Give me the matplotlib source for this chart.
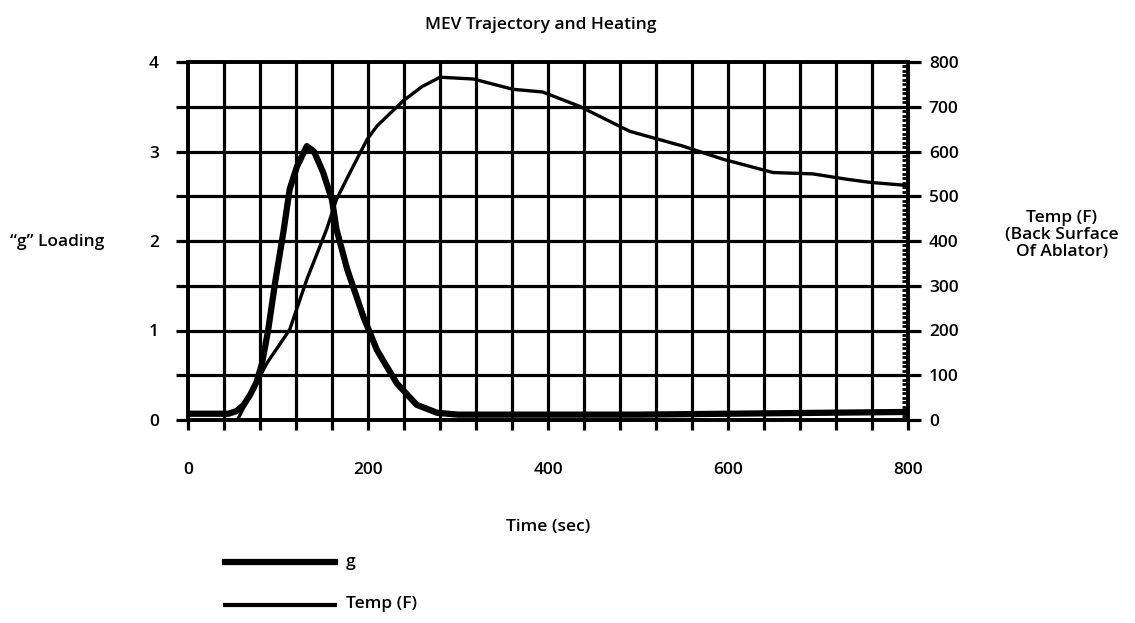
import numpy as np
import matplotlib.pyplot as plt
from matplotlib.ticker import MultipleLocator

plt.rcParams['font.family'] = ['Open Sans', 'DejaVu Sans']
plt.rcParams['font.weight'] = 'semibold'

# g loading vs time
g_time = [0, 45, 54, 62, 69, 76, 82, 89, 97, 106, 113, 121, 132, 140, 150, 160, 165,
          177, 195, 210, 232, 254, 277, 300, 400, 500, 600, 700, 800]
g_load = [0.07, 0.07, 0.1, 0.17, 0.28, 0.42, 0.62, 1.0, 1.55, 2.1, 2.58, 2.83, 3.06, 3.0,
          2.77, 2.46, 2.13, 1.68, 1.15, 0.78, 0.41, 0.17, 0.08, 0.06, 0.06, 0.06, 0.07, 0.08, 0.09]

# back surface temperature of ablator
t_time = [55, 70, 88, 113, 132, 154, 165, 180, 199, 210, 239, 260, 280, 317, 361, 394,
          435, 491, 550, 594, 650, 694, 732, 758, 800]
t_temp = [0, 60, 128, 202, 314, 426, 493, 553, 627, 657, 713, 745, 766, 762, 739, 733,
          701, 645, 612, 583, 553, 550, 538, 531, 524]

fig = plt.figure(figsize=(11.35, 6.23), dpi=100, facecolor='white')
ax = fig.add_axes([188/1135, 1 - 420/623, 720/1135, 358/623])
ax2 = ax.twinx()

ax.set_xlim(0, 800)
ax.set_ylim(0, 4)
ax2.set_ylim(0, 800)

# grid every 40 s / 0.5 g
for x in np.arange(40, 800, 40):
    ax.axvline(x, color='black', lw=2.3, zorder=1)
for y in np.arange(0.5, 4, 0.5):
    ax.axhline(y, color='black', lw=2.3, zorder=1)

ax.plot(g_time, g_load, color='black', lw=4.5, solid_capstyle='round', zorder=3, label='g')
ax2.plot(t_time, t_temp, color='black', lw=2.4, zorder=3, label='Temp (F)')

for a in (ax, ax2):
    for s in a.spines.values():
        s.set_linewidth(2.6)

ax.set_xticks(np.arange(0, 801, 40))
ax.set_xticklabels([str(v) if v % 200 == 0 else '' for v in range(0, 801, 40)])
ax.set_yticks(np.arange(0, 4.01, 0.5))
ax.set_yticklabels([str(int(v)) if v % 1 == 0 else '' for v in np.arange(0, 4.01, 0.5)])
ax.tick_params(axis='x', direction='out', length=7, width=2.3, labelsize=12.5, pad=23)
ax.tick_params(axis='y', direction='out', length=9, width=2.3, labelsize=12.5, pad=12)

ax2.set_yticks(np.arange(0, 801, 100))
ax2.yaxis.set_minor_locator(MultipleLocator(10))
ax2.tick_params(axis='y', which='major', direction='out', length=9, width=2.3,
                labelsize=12.5, pad=6)
ax2.tick_params(axis='y', which='minor', direction='in', length=4, width=2)

ax.set_title('MEV Trajectory and Heating', fontsize=12.5, fontweight='semibold',
             pad=24, x=0.49)
ax.set_xlabel('Time (sec)', fontsize=12.5, fontweight='semibold', labelpad=30)
fig.text(10/1135, 1 - 242/623, '\u201cg\u201d Loading', fontsize=12.5, va='center', ha='left')
fig.text(1062/1135, 1 - 235/623, 'Temp (F)\n(Back Surface\nOf Ablator)', fontsize=12.5,
         va='center', ha='center', linespacing=1.05)

# legend drawn by hand below the axes
fig.add_artist(plt.Line2D([225/1135, 335/1135], [1 - 562/623] * 2, color='black', lw=4.5))
fig.add_artist(plt.Line2D([225/1135, 335/1135], [1 - 605/623] * 2, color='black', lw=3))
fig.text(346/1135, 1 - 562/623, 'g', fontsize=12.5, va='center')
fig.text(346/1135, 1 - 604/623, 'Temp (F)', fontsize=12.5, va='center')

fig.savefig('out.png', dpi=100, facecolor='white')
